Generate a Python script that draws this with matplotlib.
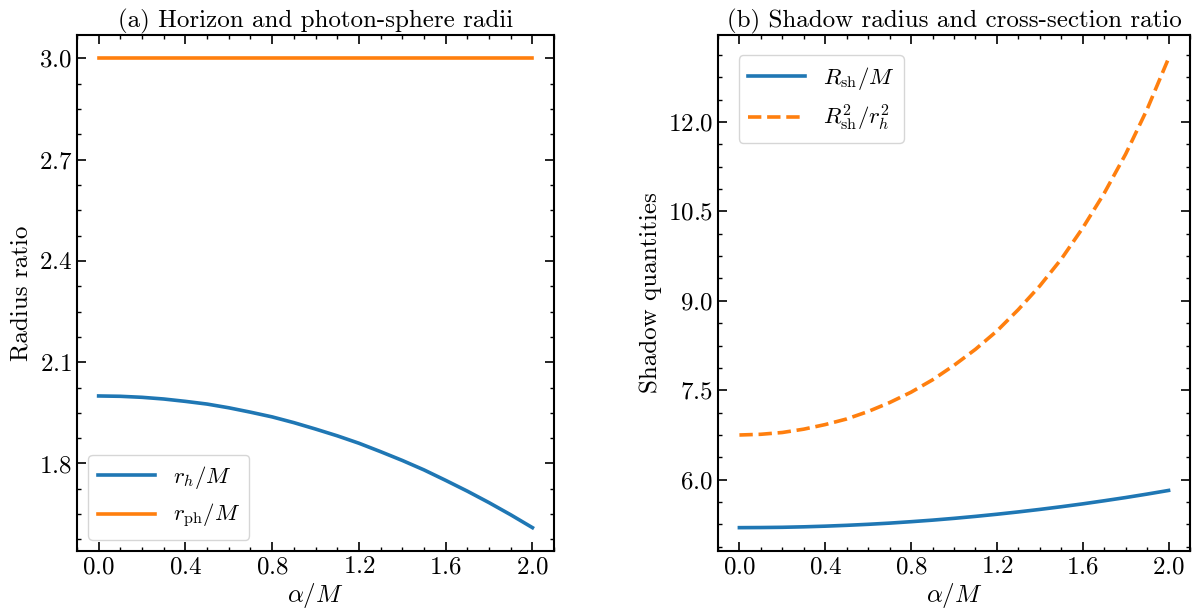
import numpy as np
import matplotlib
matplotlib.use('Agg')
import matplotlib.pyplot as plt
from matplotlib.ticker import MultipleLocator, AutoMinorLocator

plt.rcParams['font.family'] = 'serif'
plt.rcParams['font.serif'] = ['cmr10']
plt.rcParams['mathtext.fontset'] = 'cm'
plt.rcParams['axes.formatter.use_mathtext'] = True
plt.rcParams['font.size'] = 18

# values, alpha/M in steps of 0.1
alpha = [0.0, 0.1, 0.2, 0.3, 0.4, 0.5, 0.6, 0.7, 0.8, 0.9, 1.0,
         1.1, 1.2, 1.3, 1.4, 1.5, 1.6, 1.7, 1.8, 1.9, 2.0]
r_h = [2.000, 1.999, 1.996, 1.991, 1.984, 1.976, 1.965, 1.952, 1.938, 1.921, 1.902,
       1.882, 1.860, 1.835, 1.809, 1.781, 1.750, 1.718, 1.684, 1.648, 1.610]
r_ph = [3.0] * 21
R_sh = [5.196, 5.198, 5.202, 5.210, 5.221, 5.235, 5.252, 5.272, 5.296, 5.322, 5.352,
        5.385, 5.421, 5.460, 5.502, 5.547, 5.595, 5.647, 5.701, 5.759, 5.820]
ratio = [6.750, 6.762, 6.792, 6.848, 6.925, 7.019, 7.144, 7.294, 7.468, 7.675, 7.918,
         8.187, 8.494, 8.854, 9.251, 9.700, 10.222, 10.804, 11.461, 12.212, 13.068]

fig = plt.figure(figsize=(11.93, 6.11), dpi=100)
ax1 = fig.add_axes([0.0645, 0.098, 0.400, 0.845])
ax2 = fig.add_axes([0.6018, 0.098, 0.3957, 0.845])

ax1.plot(alpha, r_h, color='#1f77b4', lw=2.6, label=r'$r_h/M$')
ax1.plot(alpha, r_ph, color='#ff7f0e', lw=2.6, label=r'$r_{\rm ph}/M$')
ax1.set_title('(a) Horizon and photon-sphere radii', fontsize=18, pad=5)
ax1.set_xlabel(r'$\alpha/M$', labelpad=2)
ax1.set_ylabel('Radius ratio')
ax1.xaxis.set_major_locator(MultipleLocator(0.4))
ax1.yaxis.set_major_locator(MultipleLocator(0.3))
ax1.legend(loc='lower left', handlelength=2.5, fontsize=16.5)

ax2.plot(alpha, R_sh, color='#1f77b4', lw=2.6, label=r'$R_{\rm sh}/M$')
ax2.plot(alpha, ratio, color='#ff7f0e', lw=2.6, ls='--', label=r'$R_{\rm sh}^2/r_h^2$')
ax2.set_title('(b) Shadow radius and cross-section ratio', fontsize=18, pad=5)
ax2.set_xlabel(r'$\alpha/M$', labelpad=2)
ax2.set_ylabel('Shadow quantities')
ax2.xaxis.set_major_locator(MultipleLocator(0.4))
ax2.yaxis.set_major_locator(MultipleLocator(1.5))
ax2.legend(loc='upper left', handlelength=2.5, fontsize=16.5, borderaxespad=0.9)

for ax in (ax1, ax2):
    ax.xaxis.set_minor_locator(AutoMinorLocator(4))
    ax.yaxis.set_minor_locator(AutoMinorLocator(4))
    ax.tick_params(which='both', direction='in', top=True, right=True, labelsize=18)
    ax.tick_params(which='major', length=6.5, width=1.2)
    ax.tick_params(which='minor', length=3.2, width=1.0)
    for s in ax.spines.values():
        s.set_linewidth(1.5)

fig.savefig('out.png', dpi=100)
